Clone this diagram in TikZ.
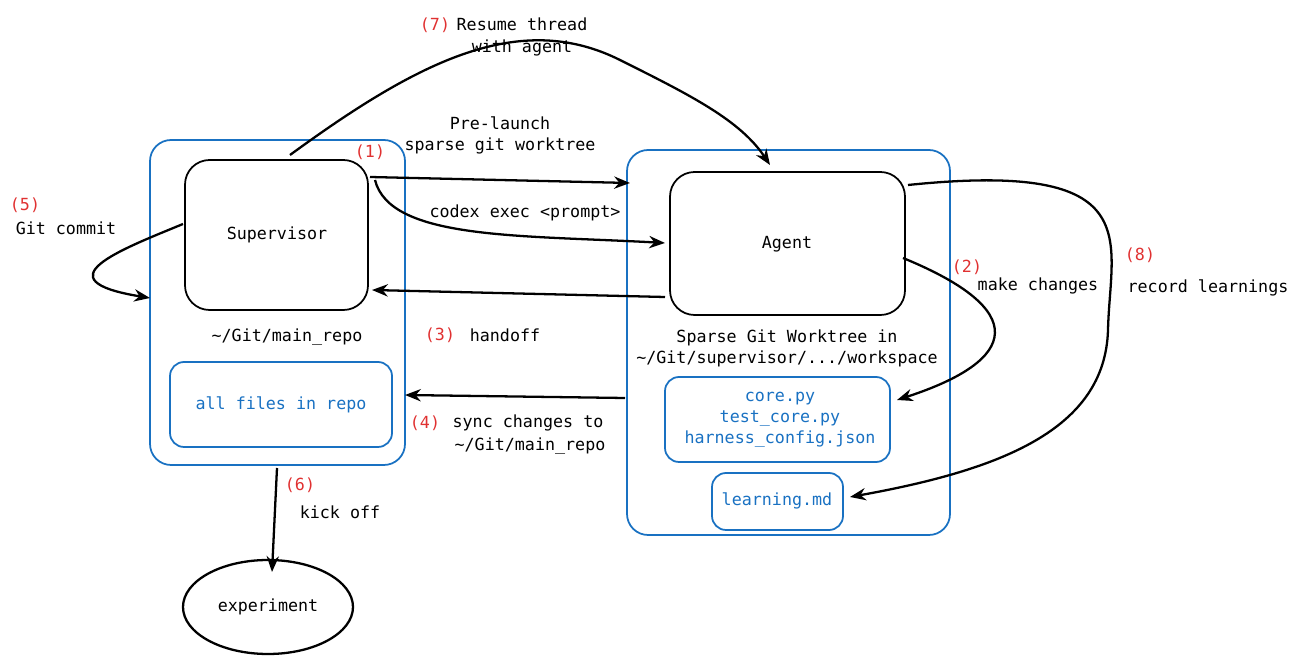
\documentclass[tikz,border=0pt]{standalone}
\usepackage{fontspec}
\setmainfont{DejaVu Sans Mono}
\usetikzlibrary{arrows.meta,shapes.geometric}
\definecolor{exblue}{HTML}{1971C2}
\definecolor{exred}{HTML}{E03131}
\tikzstyle{outer}=[draw=exblue,rounded corners=12pt,line width=1pt]
\tikzstyle{inner}=[draw,rounded corners=14pt,line width=1pt]
\tikzstyle{filebox}=[draw=exblue,rounded corners=8pt,line width=1pt,text=exblue]
\tikzstyle{flow}=[-{Stealth[length=9pt,width=7pt]},line width=1.3pt]
\tikzstyle{txt}=[font=\fontsize{9.5pt}{12pt}\selectfont,align=center]
\tikzstyle{num}=[txt,text=exred]
\begin{document}
\begin{tikzpicture}[x=0.02cm,y=-0.02cm]
    \useasboundingbox (0,0) rectangle (1295,668);

    % supervisor side
    \draw[outer] (150,140) rectangle (405,465);
    \draw[inner] (185,160) rectangle (368,310);
    \node[txt] (sup) at (277,235) {Supervisor};
    \node[txt] (mainrepo) at (287,337) {\textasciitilde/Git/main\_repo};
    \draw[filebox] (170,362) rectangle (392,447);
    \node[txt,text=exblue] (allfiles) at (281,405) {all files in repo};

    % agent side
    \draw[outer] (627,150) rectangle (950,535);
    \draw[inner] (670,172) rectangle (905,315);
    \node[txt] (agent) at (787,244) {Agent};
    \node[txt] (tree) at (787,348) {Sparse Git Worktree in\\\textasciitilde/Git/supervisor/.../workspace};
    \draw[filebox] (665,377) rectangle (890,462);
    \node[txt,text=exblue] (files) at (780,420) {core.py\\test\_core.py\\harness\_config.json};
    \draw[filebox] (712,473) rectangle (843,530);
    \node[txt,text=exblue] (learn) at (777,501) {learning.md};

    \draw[line width=1.3pt] (268,607) ellipse (85 and 47);
    \node[txt] (exp) at (268,607) {experiment};

    % connectors
    \draw[flow] (370,177) -- (630,183);
    \node[num] at (370,152) {(1)};
    \node[txt] at (500,135) {Pre-launch\\sparse git worktree};

    \draw[flow] (375,180) .. controls (390,240) and (520,235) .. (665,243);
    \node[txt] at (525,213) {codex exec <prompt>};

    \draw[flow] (665,297) -- (372,290);
    \node[num] at (440,335) {(3)};
    \node[txt] at (505,335) {handoff};

    \draw[flow] (625,398) -- (405,395);
    \node[num] at (425,423) {(4)};
    \node[txt] at (528,423) {sync changes to};
    \node[txt] at (530,446) {\textasciitilde/Git/main\_repo};

    \draw[flow] (903,258) .. controls (1030,310) and (1020,360) .. (897,400);
    \node[num] at (967,267) {(2)};
    \node[txt] at (1038,286) {make changes};

    \draw[flow] (908,185) .. controls (1150,160) and (1110,240) .. (1108,330)
                .. controls (1105,430) and (1000,470) .. (850,497);
    \node[num] at (1140,255) {(8)};
    \node[txt] at (1208,288) {record learnings};

    \draw[flow] (290,155) .. controls (420,60) and (520,10) .. (620,60)
                .. controls (690,95) and (740,120) .. (770,165);
    \node[num] at (435,25) {(7)};
    \node[txt] at (522,37) {Resume thread\\with agent};

    \draw[flow] (183,224) .. controls (120,250) and (40,280) .. (150,298);
    \node[num] at (25,205) {(5)};
    \node[txt] at (66,228) {Git commit};

    \draw[flow] (277,468) -- (272,572);
    \node[num] at (300,485) {(6)};
    \node[txt] at (340,512) {kick off};
\end{tikzpicture}
\end{document}
